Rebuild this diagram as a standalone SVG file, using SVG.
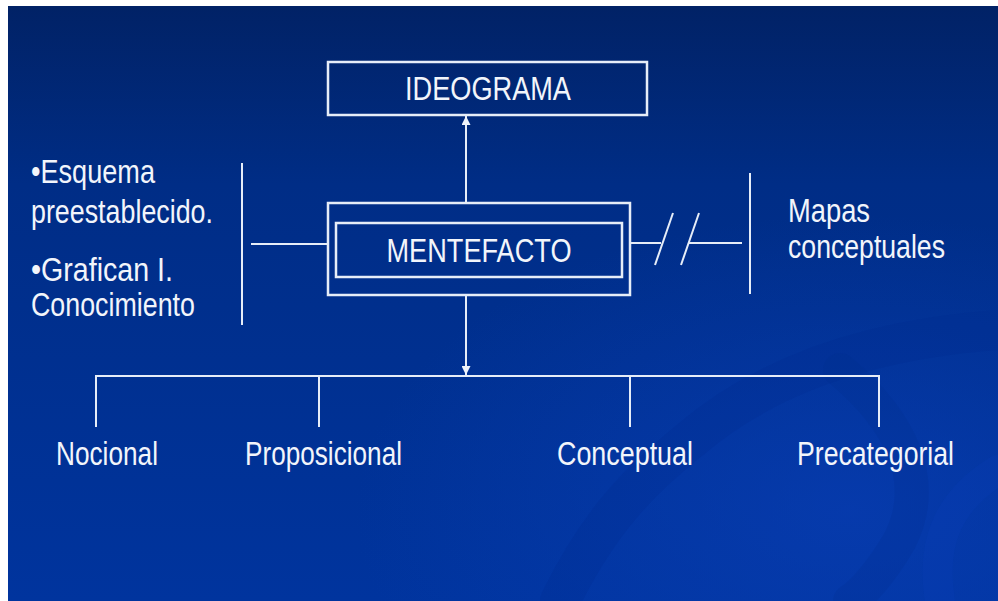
<svg xmlns="http://www.w3.org/2000/svg" width="998" height="601" viewBox="0 0 998 601">
  <defs>
    <linearGradient id="bg" x1="0" y1="0" x2="0" y2="1">
      <stop offset="0" stop-color="#012266"/>
      <stop offset="0.3" stop-color="#002d86"/>
      <stop offset="1" stop-color="#00349e"/>
    </linearGradient>
    <radialGradient id="glow" cx="0.85" cy="0.85" r="0.5">
      <stop offset="0" stop-color="#0a3fb8" stop-opacity="0.6"/>
      <stop offset="1" stop-color="#0a3fb8" stop-opacity="0"/>
    </radialGradient>
    <marker id="tip" viewBox="0 0 10 10" refX="10" refY="5" markerWidth="10" markerHeight="9" markerUnits="userSpaceOnUse" orient="auto">
      <path d="M0,0 L10,5 L0,10 z" fill="#eef3fb"/>
    </marker>
    <style>
      .ln { stroke: #e6edf8; stroke-width: 2; fill: none; }
      .box { stroke: #e6edf8; stroke-width: 2.5; fill: none; }
      .t { font-family: "Liberation Sans", Arial, sans-serif; font-size: 33px; fill: #f2f5fb; }
      .c { text-anchor: middle; }
    </style>
  </defs>

  <!-- slide background -->
  <rect x="0" y="0" width="998" height="601" fill="#ffffff"/>
  <rect x="8" y="6" width="990" height="595" fill="url(#bg)"/>
  <rect x="8" y="6" width="990" height="595" fill="url(#glow)"/>
  <!-- faint swirl decoration -->
  <g fill="none" stroke-linecap="round">
    <path d="M998,330 C860,340 760,380 690,440 C640,480 600,520 560,601" stroke="#002a8a" stroke-width="40" opacity="0.2"/>
    <path d="M840,370 C900,420 930,480 900,540 C880,575 860,595 850,601" stroke="#002b8c" stroke-width="34" opacity="0.2"/>
    <path d="M998,470 C950,500 930,540 940,601" stroke="#0b44c0" stroke-width="30" opacity="0.15"/>
  </g>

  <!-- connectors -->
  <g id="connectors">
    <line class="ln" x1="466" y1="203" x2="466" y2="116" marker-end="url(#tip)"/>
    <line class="ln" x1="466" y1="295" x2="466" y2="375" marker-end="url(#tip)"/>
    <path class="ln" d="M96,427 V376 H879 V427"/>
    <line class="ln" x1="319" y1="376" x2="319" y2="427"/>
    <line class="ln" x1="630" y1="376" x2="630" y2="427"/>
    <!-- left bracket -->
    <line class="ln" x1="242" y1="163" x2="242" y2="325"/>
    <line class="ln" x1="251" y1="244" x2="328" y2="244"/>
    <!-- right bracket with break -->
    <line class="ln" x1="630" y1="243" x2="661" y2="243"/>
    <line class="ln" x1="655" y1="265" x2="673" y2="213"/>
    <line class="ln" x1="681" y1="265" x2="699" y2="213"/>
    <line class="ln" x1="688" y1="243" x2="742" y2="243"/>
    <line class="ln" x1="750" y1="173" x2="750" y2="294"/>
  </g>

  <g id="ideograma">
    <rect class="box" x="328" y="62" width="319" height="53"/>
    <text class="t c" x="488" y="100" textLength="166" lengthAdjust="spacingAndGlyphs">IDEOGRAMA</text>
  </g>

  <g id="mentefacto">
    <rect class="box" x="328" y="203" width="302" height="92"/>
    <rect class="box" x="336" y="223" width="286" height="54"/>
    <text class="t c" x="479" y="262" textLength="185" lengthAdjust="spacingAndGlyphs">MENTEFACTO</text>
  </g>

  <g id="caracteristicas">
    <text class="t" x="31" y="183" textLength="124" lengthAdjust="spacingAndGlyphs">•Esquema</text>
    <text class="t" x="31" y="223" textLength="182" lengthAdjust="spacingAndGlyphs">preestablecido.</text>
    <text class="t" x="31" y="281" textLength="142" lengthAdjust="spacingAndGlyphs">•Grafican I.</text>
    <text class="t" x="31" y="316" textLength="164" lengthAdjust="spacingAndGlyphs">Conocimiento</text>
  </g>

  <g id="mapas">
    <text class="t" x="788" y="222" textLength="82" lengthAdjust="spacingAndGlyphs">Mapas</text>
    <text class="t" x="788" y="258" textLength="157" lengthAdjust="spacingAndGlyphs">conceptuales</text>
  </g>

  <g id="nocional">
    <text class="t" x="56" y="465" textLength="102" lengthAdjust="spacingAndGlyphs">Nocional</text>
  </g>
  <g id="proposicional">
    <text class="t" x="245" y="465" textLength="157" lengthAdjust="spacingAndGlyphs">Proposicional</text>
  </g>
  <g id="conceptual">
    <text class="t" x="557" y="465" textLength="136" lengthAdjust="spacingAndGlyphs">Conceptual</text>
  </g>
  <g id="precategorial">
    <text class="t" x="797" y="465" textLength="157" lengthAdjust="spacingAndGlyphs">Precategorial</text>
  </g>
</svg>
